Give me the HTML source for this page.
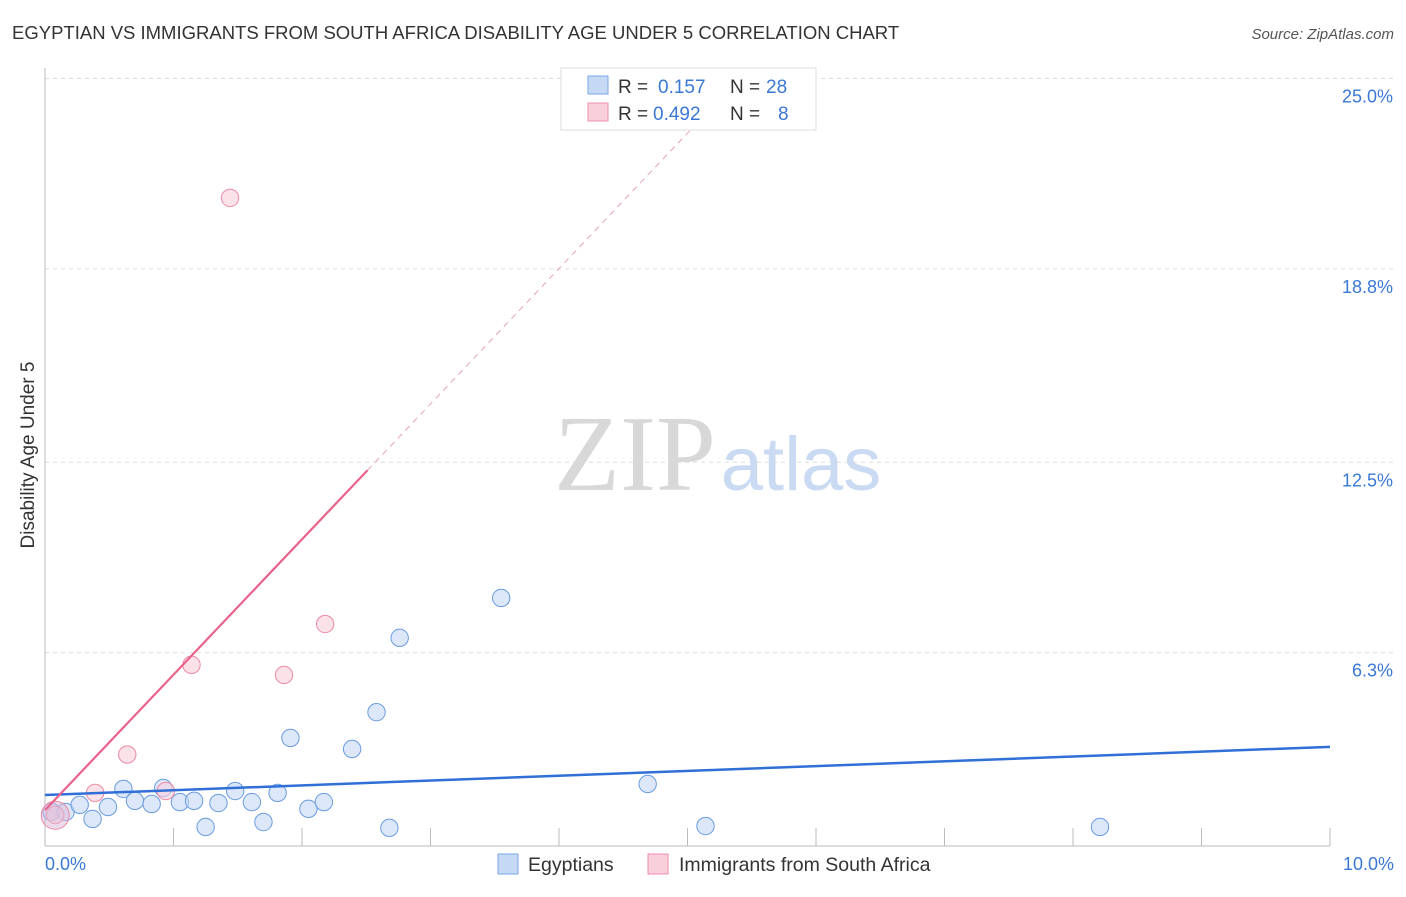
<!DOCTYPE html>
<html><head><meta charset="utf-8"><style>
body{margin:0;background:#fff;font-family:"Liberation Sans",sans-serif;}
</style></head><body>
<svg width="1406" height="892" xmlns="http://www.w3.org/2000/svg">
<text x="12" y="39" font-size="18.5" fill="#333">EGYPTIAN VS IMMIGRANTS FROM SOUTH AFRICA DISABILITY AGE UNDER 5 CORRELATION CHART</text>
<text x="1394" y="39" font-size="15" fill="#555" text-anchor="end" font-style="italic">Source: ZipAtlas.com</text>
<g id="grid"></g>
<text x="635" y="490" font-size="108" fill="#d8d8d8" font-family="Liberation Serif,serif" text-anchor="middle">ZIP</text>
<text x="801" y="490" font-size="76" fill="#c9daf2" text-anchor="middle">atlas</text>
<g id="marks"></g>
<text transform="translate(34,455) rotate(-90)" font-size="19" fill="#333" text-anchor="middle">Disability Age Under 5</text>
<g>
<rect x="561" y="68" width="255" height="62" fill="#fff" stroke="#ddd"/>
<rect x="588" y="76" width="20" height="18" fill="#c5d9f5" stroke="#7aa6e8"/>
<text x="618" y="93" font-size="19" fill="#333">R = </text><text x="658" y="93" font-size="19" fill="#3a78d6">0.157</text>
<text x="730" y="93" font-size="19" fill="#333">N = </text><text x="766" y="93" font-size="19" fill="#3a78d6">28</text>
<rect x="588" y="103" width="20" height="18" fill="#f9cfdb" stroke="#ee90ab"/>
<text x="618" y="120" font-size="19" fill="#333">R = </text><text x="653" y="120" font-size="19" fill="#3a78d6">0.492</text>
<text x="730" y="120" font-size="19" fill="#333">N = </text><text x="778" y="120" font-size="19" fill="#3a78d6">8</text>
</g>
<g>
<rect x="498" y="854" width="20" height="20" fill="#c5d9f5" stroke="#7aa6e8"/>
<text x="528" y="871" font-size="19.5" fill="#333">Egyptians</text>
<rect x="648" y="854" width="20" height="20" fill="#f9cfdb" stroke="#ee90ab"/>
<text x="679" y="871" font-size="19.5" fill="#333">Immigrants from South Africa</text>
</g>
</svg>
<script>
const blueX=[0.05,0.16,0.27,0.37,0.49,0.61,0.70,0.83,0.92,1.05,1.16,1.25,1.35,1.48,1.61,1.70,1.81,1.91,2.05,2.17,2.39,2.58,2.68,2.76,3.55,4.69,5.14,8.21];
const blueY=[1.11,1.11,1.34,0.88,1.27,1.86,1.47,1.37,1.89,1.43,1.47,0.62,1.40,1.79,1.43,0.78,1.73,3.52,1.21,1.43,3.16,4.36,0.59,6.78,8.08,2.02,0.65,0.62];
const pinkX=[0.08,0.39,0.64,0.94,1.14,1.44,1.86,2.18];
const pinkY=[1.01,1.73,2.98,1.79,5.90,21.11,5.57,7.23];
const blueTrend=[1.66,0.157];
const pinkTrend=[1.17,4.41];
const yTicks=[6.3,12.5,18.8,25.0];
const yTickLabels=["6.3%","12.5%","18.8%","25.0%"];
const xTicks=[1,2,3,4,5,6,7,8,9,10];
const NS="http://www.w3.org/2000/svg";
const xs=v=>45+v*128.5, ys=v=>846-v*30.7;
function mk(t,a,p){const e=document.createElementNS(NS,t);for(const k in a)e.setAttribute(k,a[k]);p.appendChild(e);return e;}
const grid=document.getElementById('grid'), marks=document.getElementById('marks');
yTicks.forEach((v,i)=>{
 const l=mk('line',{x1:45,x2:1394,y1:ys(v),y2:ys(v),stroke:'#ddd','stroke-dasharray':'4,4'},grid);
 
 
 const t=mk('text',{x:1393,y:ys(v)+24,'font-size':18,fill:'#3a78d6','text-anchor':'end'},grid);
 t.textContent=yTickLabels[i];
 
 
});
xTicks.forEach(v=>{
 const l=mk('line',{x1:xs(v),x2:xs(v),y1:828,y2:846,stroke:'#bbb'},grid);
 
 
});
let a=mk('line',{x1:45,x2:45,y1:68,y2:846,stroke:'#bbb'},grid);


a=mk('line',{x1:45,x2:1330,y1:846,y2:846,stroke:'#bbb'},grid);


let t=mk('text',{x:45,y:870,'font-size':18,fill:'#3a78d6'},grid);t.textContent='0.0%';


t=mk('text',{x:1394,y:870,'font-size':18,fill:'#3a78d6','text-anchor':'end'},grid);t.textContent='10.0%';


function pts(X,Y,fill,stroke,name){X.forEach((x,i)=>{
 const c=mk('circle',{cx:xs(x),cy:ys(Y[i]),r:8.7,fill:fill,stroke:stroke,'stroke-width':1,'fill-opacity':0.6},marks);
 
 
});}
pts(blueX,blueY,'#c5d9f5','#6a9be0','egyptian-point');
pts(pinkX,pinkY,'#f9cfdb','#ec8aa6','south-africa-point');
let b=mk('circle',{cx:xs(0.08),cy:ys(1.0),r:14,fill:'#d9b8d8','fill-opacity':0.5,stroke:'#ec8aa6'},marks);


let L=mk('line',{x1:xs(0),y1:ys(blueTrend[0]),x2:xs(10),y2:ys(blueTrend[0]+blueTrend[1]*10),stroke:'#2f6fd6','stroke-width':2.5},marks);


const pEnd=2.51, pTop=(25-pinkTrend[0])/pinkTrend[1];
L=mk('line',{x1:xs(0),y1:ys(pinkTrend[0]),x2:xs(pEnd),y2:ys(pinkTrend[0]+pinkTrend[1]*pEnd),stroke:'#e8628a','stroke-width':2.2},marks);


L=mk('line',{x1:xs(pEnd),y1:ys(pinkTrend[0]+pinkTrend[1]*pEnd),x2:xs(pTop),y2:ys(25),stroke:'#e8a0b4','stroke-width':1,'stroke-dasharray':'6,5'},marks);


</script>
</body></html>
